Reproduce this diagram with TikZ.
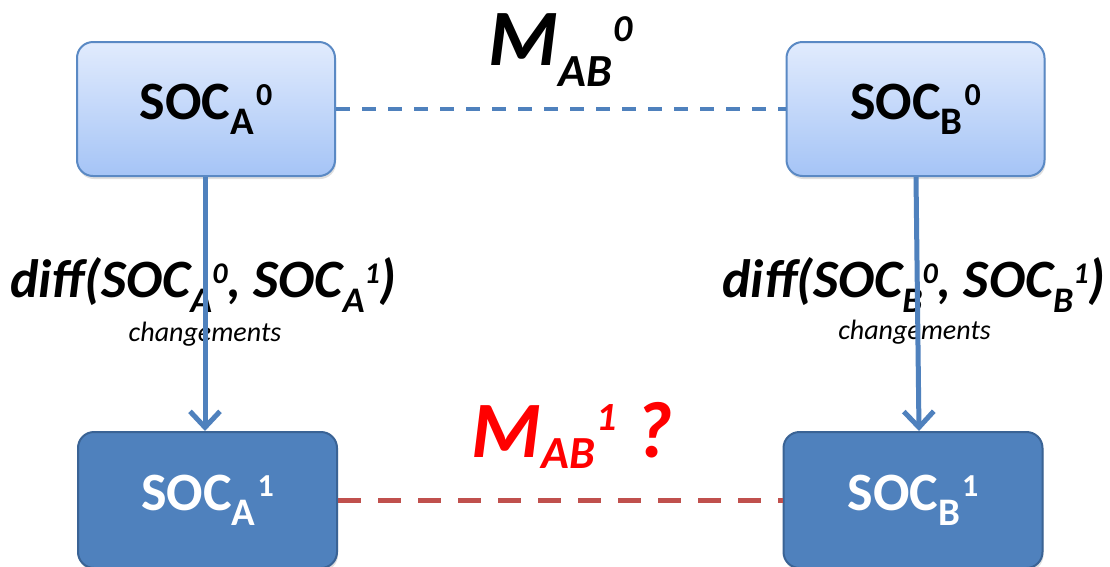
\documentclass[tikz,border=0pt]{standalone}
\usepackage{fontspec}
\setmainfont{Carlito}
\usetikzlibrary{arrows.meta,shadows}
\definecolor{accblue}{HTML}{4F81BD}
\definecolor{accred}{HTML}{C0504D}
\definecolor{lighttop}{HTML}{E1EBFD}
\definecolor{lightbot}{HTML}{A5C4F6}
\definecolor{bordlight}{HTML}{5A89C4}
\definecolor{borddark}{HTML}{3A6395}
\newcommand{\socx}[2]{{\fontsize{54}{58}\selectfont\bfseries SOC\raisebox{-15pt}{\fontsize{39}{42}\selectfont #1}\kern2pt\raisebox{14pt}{\fontsize{32}{34}\selectfont #2}}}
\newcommand{\diffx}[1]{{\fontsize{54}{58}\selectfont\bfseries\itshape diff(SOC\raisebox{-15pt}{\fontsize{36}{38}\selectfont #1}\raisebox{14pt}{\fontsize{30}{32}\selectfont 0}, SOC\raisebox{-15pt}{\fontsize{36}{38}\selectfont #1}\raisebox{14pt}{\fontsize{30}{32}\selectfont 1})}}
\tikzset{
  lightbox/.style={draw=bordlight, line width=2pt, rounded corners=16pt, top color=lighttop, bottom color=lightbot, minimum width=258pt, minimum height=134pt, inner sep=0pt, drop shadow={opacity=0.25, shadow xshift=1pt, shadow yshift=-3pt}},
  darkbox/.style={draw=borddark, line width=2pt, rounded corners=16pt, fill=accblue, text=white, minimum width=259pt, minimum height=136pt, inner sep=0pt, drop shadow={opacity=0.25, shadow xshift=1pt, shadow yshift=-3pt}},
  bluedash/.style={draw=accblue, line width=4pt, dash pattern=on 14pt off 12pt},
  reddash/.style={draw=accred, line width=5pt, dash pattern=on 23pt off 17pt},
  downarrow/.style={draw=accblue, line width=5pt, -{Straight Barb[length=16pt,width=30pt,line width=5pt]}},
  lbl/.style={inner sep=0pt}
}
\begin{document}
\begin{tikzpicture}[x=1pt,y=-1pt]
\useasboundingbox[fill=white] (0,0) rectangle (1110,566);
\node[lightbox] (a0) at (206,109) {\socx{A}{0}};
\node[lightbox] (b0) at (915.5,109) {\socx{B}{0}};
\node[darkbox] (a1) at (207.5,500) {\socx{A}{1}};
\node[darkbox] (b1) at (913,500) {\socx{B}{1}};
\node[lbl, anchor=base west] (m0) at (488,65) {\fontsize{80}{84}\selectfont\bfseries\itshape M\raisebox{-21pt}{\fontsize{46}{50}\selectfont AB}\kern2pt\raisebox{24pt}{\fontsize{38}{42}\selectfont 0}};
\node[lbl, anchor=base west, text=red] (m1) at (471,457) {\fontsize{80}{84}\selectfont\bfseries\itshape M\raisebox{-11pt}{\fontsize{46}{50}\selectfont AB}\kern2pt\raisebox{27pt}{\fontsize{40}{44}\selectfont 1} ?};
\node[lbl, anchor=base west] (da) at (10,297) {\diffx{A}};
\node[lbl, anchor=base] (ca) at (205,341) {\fontsize{28}{32}\selectfont\itshape changements};
\node[lbl, anchor=base west] (db) at (722,297) {\diffx{B}};
\node[lbl, anchor=base] (cb) at (914.5,339) {\fontsize{28}{32}\selectfont\itshape changements};
\draw[bluedash] (a0.east) -- (b0.west);
\draw[reddash] (a1.east) -- (b1.west);
\draw[downarrow] ([xshift=-1pt]a0.south) -- ([xshift=-2.5pt]a1.north);
\draw[downarrow] ([xshift=0.5pt]b0.south) -- ([xshift=6pt]b1.north);
\end{tikzpicture}
\end{document}
